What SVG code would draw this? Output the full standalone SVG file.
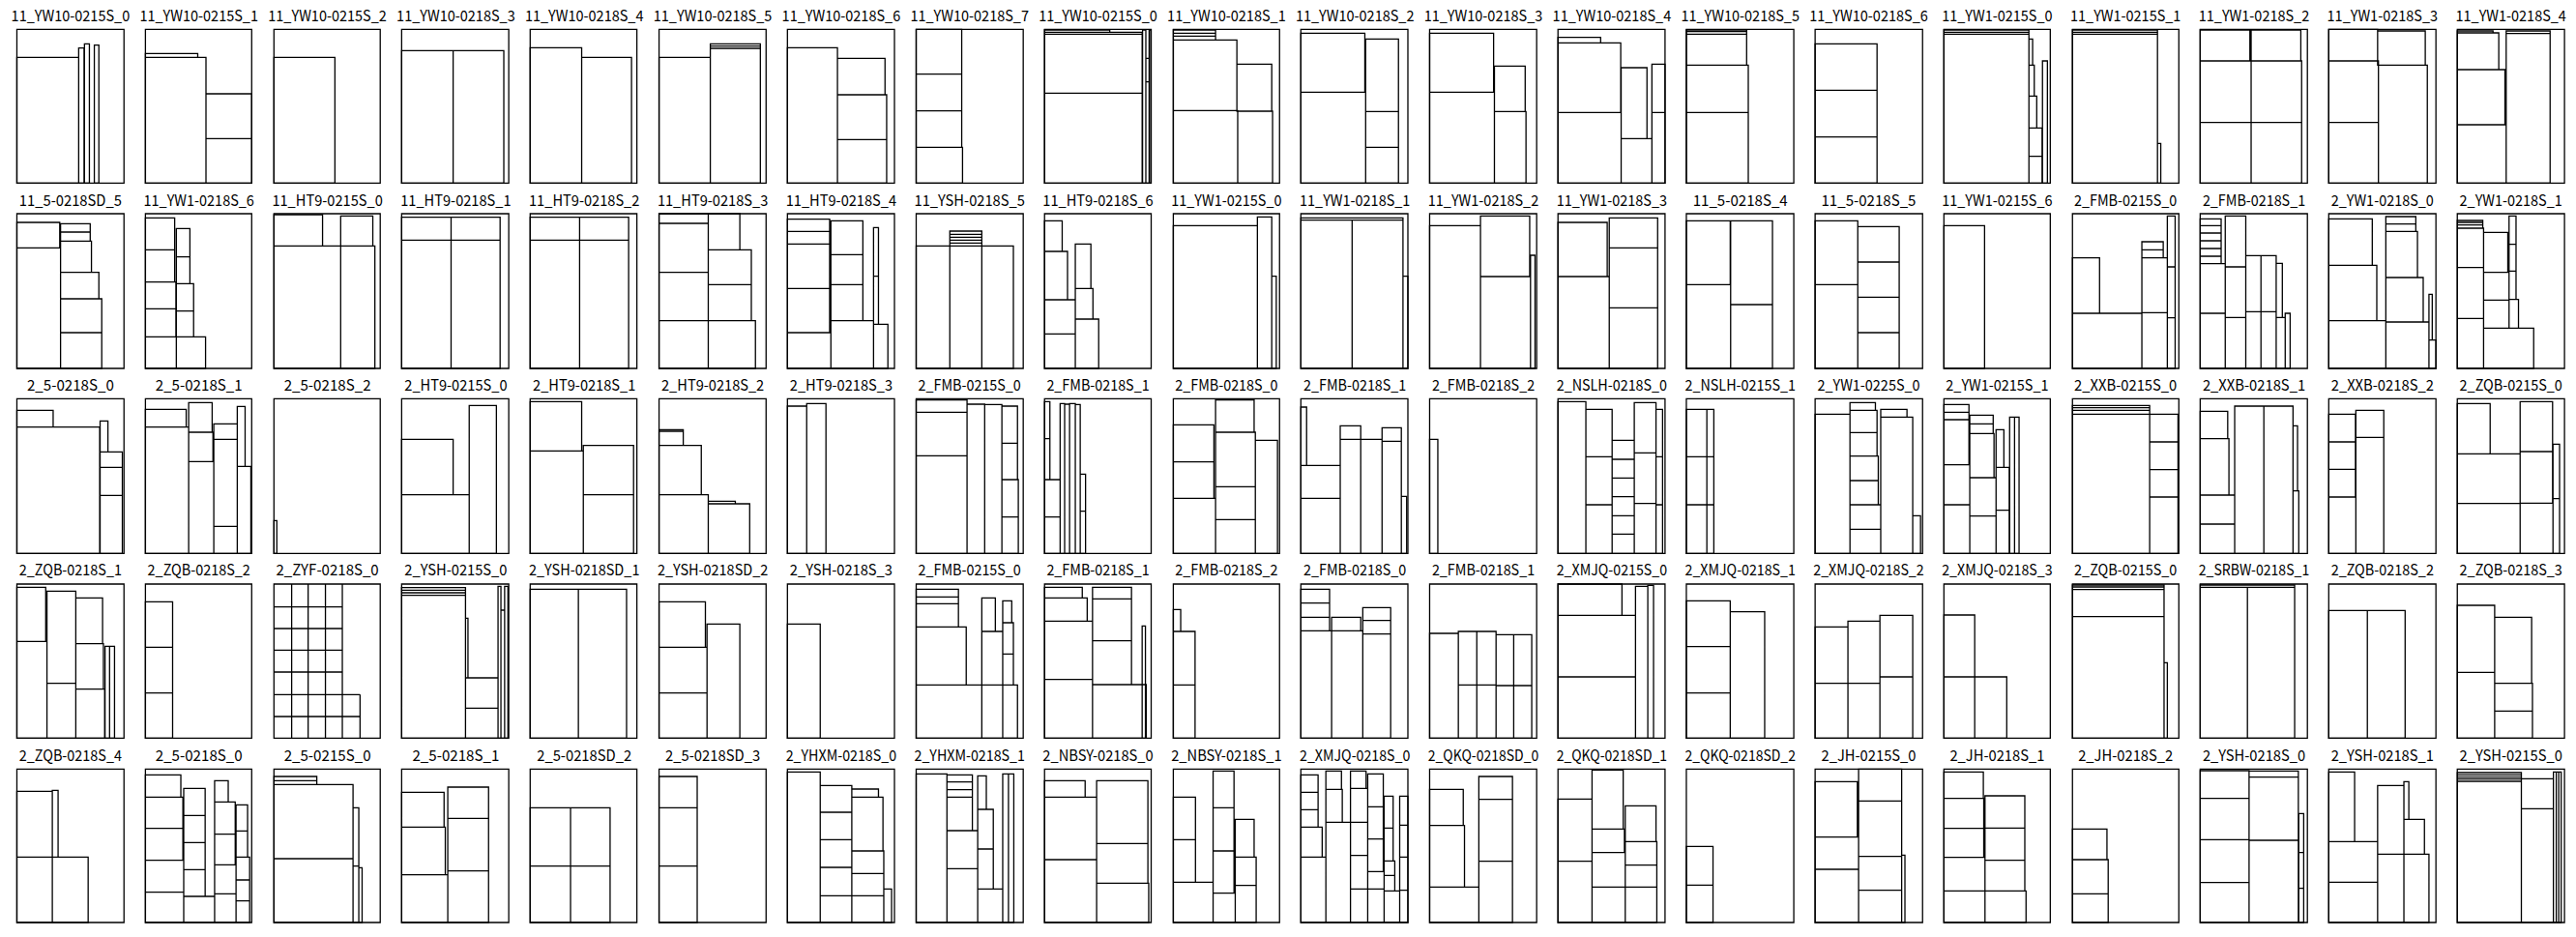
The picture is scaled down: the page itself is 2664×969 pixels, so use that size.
<svg xmlns="http://www.w3.org/2000/svg" width="2664" height="969" viewBox="0 0 2664 969">
<style>
.t{font-family:"Noto Sans CJK SC","DejaVu Sans Mono",sans-serif;font-size:15.5px;fill:#000;text-anchor:middle}
.f,.i{fill:none;stroke:#000;stroke-width:1.3;vector-effect:non-scaling-stroke}
</style>
<rect x="0" y="0" width="2664" height="969" fill="#fff"/>
<g id="panels">
<!-- ROW 1 -->
<g id="r1c01"><text class="t" x="72.9" y="21.5" textLength="122.6" lengthAdjust="spacingAndGlyphs">11_YW10-0215S_0</text><g transform="translate(0 0) scale(.42602 .33333)"><path class="f" d="M41 91H301V568H41Z"/><path class="i" d="M41 178H191V568H41Z M191 149H204V568H191Z M205 136H217V568H205Z M229 140H240V568H229Z"/></g></g>
<g id="r1c02"><text class="t" x="205.7" y="21.5" textLength="122.6" lengthAdjust="spacingAndGlyphs">11_YW10-0215S_1</text><g transform="translate(0 0) scale(.42602 .33333)"><path class="f" d="M353 91H611V568H353Z"/><path class="i" d="M353 166H480V178H353Z M353 178H500V568H353Z M500 291H611V430H500Z M500 430H611V568H500Z"/></g></g>
<g id="r1c03"><text class="t" x="338.6" y="21.5" textLength="122.6" lengthAdjust="spacingAndGlyphs">11_YW10-0215S_2</text><g transform="translate(0 0) scale(.42602 .33333)"><path class="f" d="M665 91H923V568H665Z"/><path class="i" d="M665 178H813V568H665Z"/></g></g>
<g id="r1c04"><text class="t" x="471.4" y="21.5" textLength="122.6" lengthAdjust="spacingAndGlyphs">11_YW10-0218S_3</text><g transform="translate(0 0) scale(.42602 .33333)"><path class="f" d="M975 91H1235V568H975Z"/><path class="i" d="M975 157H1100V568H975Z M1100 157H1223V568H1100Z"/></g></g>
<g id="r1c05"><text class="t" x="604.2" y="21.5" textLength="122.6" lengthAdjust="spacingAndGlyphs">11_YW10-0218S_4</text><g transform="translate(0 0) scale(.42602 .33333)"><path class="f" d="M1287 91H1546V568H1287Z"/><path class="i" d="M1287 148H1412V568H1287Z M1412 178H1533V568H1412Z"/></g></g>
<g id="r1c06"><text class="t" x="737.1" y="21.5" textLength="122.6" lengthAdjust="spacingAndGlyphs">11_YW10-0218S_5</text><g transform="translate(668 0) scale(.42411 .33333)"><path class="f" d="M32 91H293V568H32Z"/><path class="i" d="M32 178H157V568H32Z M157 136H279V143H157Z M157 143H279V150H157Z M157 150H279V568H157Z"/></g></g>
<g id="r1c07"><text class="t" x="869.9" y="21.5" textLength="122.6" lengthAdjust="spacingAndGlyphs">11_YW10-0218S_6</text><g transform="translate(668 0) scale(.42411 .33333)"><path class="f" d="M345 91H606V568H345Z"/><path class="i" d="M345 148H467V568H345Z M467 181H583V294H467Z M467 294H587V433H467Z M467 433H587V568H467Z"/></g></g>
<g id="r1c08"><text class="t" x="1002.7" y="21.5" textLength="122.6" lengthAdjust="spacingAndGlyphs">11_YW10-0218S_7</text><g transform="translate(668 0) scale(.42411 .33333)"><path class="f" d="M659 91H920V568H659Z"/><path class="i" d="M659 91H770V230H659Z M659 230H770V344H659Z M659 344H770V457H659Z M659 457H772V568H659Z"/></g></g>
<g id="r1c09"><text class="t" x="1135.5" y="21.5" textLength="122.6" lengthAdjust="spacingAndGlyphs">11_YW10-0215S_0</text><g transform="translate(668 0) scale(.42411 .33333)"><path class="f" d="M972 91H1232V568H972Z"/><path class="i" d="M972 93H1131V100H972Z M972 100H1210V106H972Z M972 106H1210V289H972Z M972 289H1210V568H972Z M1211 93H1219V568H1211Z M1219 181H1227V254H1219Z M1219 254H1227V568H1219Z M1227 93H1231V568H1227Z"/></g></g>
<g id="r1c10"><text class="t" x="1268.4" y="21.5" textLength="122.6" lengthAdjust="spacingAndGlyphs">11_YW10-0218S_1</text><g transform="translate(668 0) scale(.42411 .33333)"><path class="f" d="M1286 91H1545V568H1286Z"/><path class="i" d="M1286 93H1389V103H1286Z M1286 103H1389V112H1286Z M1286 112H1389V124H1286Z M1286 124H1441V343H1286Z M1441 199H1526V345H1441Z M1286 343H1443V568H1286Z M1443 345H1528V568H1443Z"/></g></g>
<g id="r1c11"><text class="t" x="1401.2" y="21.5" textLength="122.6" lengthAdjust="spacingAndGlyphs">11_YW10-0218S_2</text><g transform="translate(1333 0) scale(.42411 .33333)"><path class="f" d="M29 91H290V568H29Z"/><path class="i" d="M29 103H185V286H29Z M29 286H187V568H29Z M187 121H267V346H187Z M187 346H267V457H187Z M187 457H267V568H187Z"/></g></g>
<g id="r1c12"><text class="t" x="1534.0" y="21.5" textLength="122.6" lengthAdjust="spacingAndGlyphs">11_YW10-0218S_3</text><g transform="translate(1333 0) scale(.42411 .33333)"><path class="f" d="M343 91H604V568H343Z"/><path class="i" d="M343 103H499V286H343Z M343 286H501V568H343Z M501 205H576V346H501Z M501 346H578V568H501Z"/></g></g>
<g id="r1c13"><text class="t" x="1666.9" y="21.5" textLength="122.6" lengthAdjust="spacingAndGlyphs">11_YW10-0218S_4</text><g transform="translate(1333 0) scale(.42411 .33333)"><path class="f" d="M656 91H917V568H656Z"/><path class="i" d="M656 116H760V133H656Z M656 133H809V349H656Z M656 349H810V568H656Z M810 210H873V430H810Z M810 430H885V568H810Z M885 199H917V349H885Z M885 349H917V568H885Z"/></g></g>
<g id="r1c14"><text class="t" x="1799.7" y="21.5" textLength="122.6" lengthAdjust="spacingAndGlyphs">11_YW10-0218S_5</text><g transform="translate(1333 0) scale(.42411 .33333)"><path class="f" d="M969 91H1231V568H969Z"/><path class="i" d="M969 93H1116V98H969Z M969 98H1116V106H969Z M969 106H1116V202H969Z M969 202H1120V349H969Z M969 349H1120V568H969Z"/></g></g>
<g id="r1c15"><text class="t" x="1932.5" y="21.5" textLength="122.6" lengthAdjust="spacingAndGlyphs">11_YW10-0218S_6</text><g transform="translate(1333 0) scale(.42411 .33333)"><path class="f" d="M1283 91H1545V568H1283Z"/><path class="i" d="M1283 136H1434V280H1283Z M1283 280H1434V425H1283Z M1283 425H1434V568H1283Z"/></g></g>
<g id="r1c16"><text class="t" x="2065.4" y="21.5" textLength="114.4" lengthAdjust="spacingAndGlyphs">11_YW1-0215S_0</text><g transform="translate(1998 0) scale(.42474 .33333)"><path class="f" d="M29 91H288V568H29Z"/><path class="i" d="M29 93H236V100H29Z M29 100H236V106H29Z M29 106H236V568H29Z M236 121H245V202H236Z M236 202H249V298H236Z M236 298H255V397H236Z M236 397H268V485H236Z M236 485H268V568H236Z M269 189H281V568H269Z"/></g></g>
<g id="r1c17"><text class="t" x="2198.2" y="21.5" textLength="114.4" lengthAdjust="spacingAndGlyphs">11_YW1-0215S_1</text><g transform="translate(1998 0) scale(.42474 .33333)"><path class="f" d="M342 91H601V568H342Z"/><path class="i" d="M342 93H549V100H342Z M342 100H549V106H342Z M342 106H549V568H342Z M549 445H557V568H549Z"/></g></g>
<g id="r1c18"><text class="t" x="2331.0" y="21.5" textLength="114.4" lengthAdjust="spacingAndGlyphs">11_YW1-0218S_2</text><g transform="translate(1998 0) scale(.42474 .33333)"><path class="f" d="M653 91H914V568H653Z"/><path class="i" d="M653 93H774V189H653Z M777 93H898V189H777Z M653 189H777V380H653Z M777 189H900V380H777Z M653 380H777V568H653Z M777 380H900V568H777Z"/></g></g>
<g id="r1c19"><text class="t" x="2463.8" y="21.5" textLength="114.4" lengthAdjust="spacingAndGlyphs">11_YW1-0218S_3</text><g transform="translate(1998 0) scale(.42474 .33333)"><path class="f" d="M966 91H1227V568H966Z"/><path class="i" d="M966 91H1085V189H966Z M1085 96H1201V202H1085Z M966 189H1087V380H966Z M966 380H1087V568H966Z M1087 202H1206V568H1087Z"/></g></g>
<g id="r1c20"><text class="t" x="2596.7" y="21.5" textLength="114.4" lengthAdjust="spacingAndGlyphs">11_YW1-0218S_4</text><g transform="translate(1998 0) scale(.42474 .33333)"><path class="f" d="M1279 91H1540V568H1279Z"/><path class="i" d="M1279 96H1366V102H1279Z M1279 102H1380V216H1279Z M1279 216H1395V387H1279Z M1279 387H1398V568H1279Z M1398 96H1505V104H1398Z M1398 104H1505V568H1398Z"/></g></g>
<!-- ROW 2 -->
<g id="r2c01"><text class="t" x="72.9" y="212.8" textLength="106.2" lengthAdjust="spacingAndGlyphs">11_5-0218SD_5</text><g transform="translate(0 0) scale(.42602 .33333)"><path class="f" d="M41 663H301V1143H41Z"/><path class="i" d="M41 690H145V769H41Z M41 769H147V1143H41Z M147 694H219V720H147Z M147 720H219V748H147Z M147 748H222V845H147Z M147 845H240V927H147Z M147 927H247V1032H147Z M147 1032H247V1143H147Z"/></g></g>
<g id="r2c02"><text class="t" x="205.7" y="212.8" textLength="114.4" lengthAdjust="spacingAndGlyphs">11_YW1-0218S_6</text><g transform="translate(0 0) scale(.42602 .33333)"><path class="f" d="M353 663H611V1143H353Z"/><path class="i" d="M353 676H424V775H353Z M353 775H424V875H353Z M353 875H427V958H353Z M353 958H427V1045H353Z M353 1045H428V1143H353Z M428 709H461V797H428Z M428 797H461V880H428Z M428 880H470V965H428Z M428 965H470V1045H428Z M428 1045H499V1143H428Z"/></g></g>
<g id="r2c03"><text class="t" x="338.6" y="212.8" textLength="114.4" lengthAdjust="spacingAndGlyphs">11_HT9-0215S_0</text><g transform="translate(0 0) scale(.42602 .33333)"><path class="f" d="M665 663H923V1143H665Z"/><path class="i" d="M665 666H783V763H665Z M827 670H905V763H827Z M665 763H827V1143H665Z M827 763H910V1143H827Z"/></g></g>
<g id="r2c04"><text class="t" x="471.4" y="212.8" textLength="114.4" lengthAdjust="spacingAndGlyphs">11_HT9-0218S_1</text><g transform="translate(0 0) scale(.42602 .33333)"><path class="f" d="M975 663H1235V1143H975Z"/><path class="i" d="M975 674H1095V745H975Z M1095 674H1214V745H1095Z M975 745H1095V1143H975Z M1095 745H1214V1143H1095Z"/></g></g>
<g id="r2c05"><text class="t" x="604.2" y="212.8" textLength="114.4" lengthAdjust="spacingAndGlyphs">11_HT9-0218S_2</text><g transform="translate(0 0) scale(.42602 .33333)"><path class="f" d="M1287 663H1546V1143H1287Z"/><path class="i" d="M1287 674H1407V745H1287Z M1407 674H1526V745H1407Z M1287 745H1407V1143H1287Z M1407 745H1526V1143H1407Z"/></g></g>
<g id="r2c06"><text class="t" x="737.1" y="212.8" textLength="114.4" lengthAdjust="spacingAndGlyphs">11_HT9-0218S_3</text><g transform="translate(668 0) scale(.42411 .33333)"><path class="f" d="M32 663H293V1143H32Z"/><path class="i" d="M32 663H152V693H32Z M32 693H152V845H32Z M32 845H152V995H32Z M32 995H152V1143H32Z M152 663H229V775H152Z M152 775H257V883H152Z M152 883H257V995H152Z M152 995H267V1143H152Z"/></g></g>
<g id="r2c07"><text class="t" x="869.9" y="212.8" textLength="114.4" lengthAdjust="spacingAndGlyphs">11_HT9-0218S_4</text><g transform="translate(668 0) scale(.42411 .33333)"><path class="f" d="M345 663H606V1143H345Z"/><path class="i" d="M345 680H448V718H345Z M345 718H448V757H345Z M345 757H448V895H345Z M345 895H448V1032H345Z M345 1032H451V1143H345Z M451 685H529V790H451Z M451 790H529V883H451Z M451 883H529V995H451Z M451 995H555V1143H451Z M555 706H567V857H555Z M555 857H567V1006H555Z M555 1006H590V1143H555Z"/></g></g>
<g id="r2c08"><text class="t" x="1002.7" y="212.8" textLength="114.4" lengthAdjust="spacingAndGlyphs">11_YSH-0218S_5</text><g transform="translate(668 0) scale(.42411 .33333)"><path class="f" d="M659 663H920V1143H659Z"/><path class="i" d="M659 763H741V1143H659Z M741 717H819V727H741Z M741 727H819V736H741Z M741 736H819V745H741Z M741 745H819V754H741Z M741 754H819V763H741Z M741 763H819V1143H741Z M819 763H896V1143H819Z"/></g></g>
<g id="r2c09"><text class="t" x="1135.5" y="212.8" textLength="114.4" lengthAdjust="spacingAndGlyphs">11_HT9-0218S_6</text><g transform="translate(668 0) scale(.42411 .33333)"><path class="f" d="M972 663H1232V1143H972Z"/><path class="i" d="M972 685H1015V780H972Z M972 780H1028V930H972Z M972 930H1047V1036H972Z M972 1036H1047V1143H972Z M1047 757H1085V895H1047Z M1047 895H1090V990H1047Z M1047 990H1104V1143H1047Z"/></g></g>
<g id="r2c10"><text class="t" x="1268.4" y="212.8" textLength="114.4" lengthAdjust="spacingAndGlyphs">11_YW1-0215S_0</text><g transform="translate(668 0) scale(.42411 .33333)"><path class="f" d="M1286 663H1545V1143H1286Z"/><path class="i" d="M1286 700H1491V1143H1286Z M1491 673H1526V1143H1491Z M1526 857H1537V1143H1526Z"/></g></g>
<g id="r2c11"><text class="t" x="1401.2" y="212.8" textLength="114.4" lengthAdjust="spacingAndGlyphs">11_YW1-0218S_1</text><g transform="translate(1333 0) scale(.42411 .33333)"><path class="f" d="M29 663H290V1143H29Z"/><path class="i" d="M29 676H278V683H29Z M29 683H154V1143H29Z M154 683H278V1143H154Z M278 857H290V1143H278Z"/></g></g>
<g id="r2c12"><text class="t" x="1534.0" y="212.8" textLength="114.4" lengthAdjust="spacingAndGlyphs">11_YW1-0218S_2</text><g transform="translate(1333 0) scale(.42411 .33333)"><path class="f" d="M343 663H604V1143H343Z"/><path class="i" d="M343 700H467V1143H343Z M467 670H587V858H467Z M467 858H589V1143H467Z M589 792H600V1143H589Z"/></g></g>
<g id="r2c13"><text class="t" x="1666.9" y="212.8" textLength="114.4" lengthAdjust="spacingAndGlyphs">11_YW1-0218S_3</text><g transform="translate(1333 0) scale(.42411 .33333)"><path class="f" d="M656 663H917V1143H656Z"/><path class="i" d="M656 690H776V858H656Z M656 858H781V1143H656Z M781 676H899V769H781Z M781 769H899V955H781Z M781 955H899V1143H781Z"/></g></g>
<g id="r2c14"><text class="t" x="1799.7" y="212.8" textLength="98.0" lengthAdjust="spacingAndGlyphs">11_5-0218S_4</text><g transform="translate(1333 0) scale(.42411 .33333)"><path class="f" d="M969 663H1231V1143H969Z"/><path class="i" d="M969 685H1076V883H969Z M969 883H1077V1143H969Z M1077 685H1179V945H1077Z M1077 945H1179V1143H1077Z"/></g></g>
<g id="r2c15"><text class="t" x="1932.5" y="212.8" textLength="98.0" lengthAdjust="spacingAndGlyphs">11_5-0218S_5</text><g transform="translate(1333 0) scale(.42411 .33333)"><path class="f" d="M1283 663H1545V1143H1283Z"/><path class="i" d="M1283 685H1387V883H1283Z M1283 883H1387V1143H1283Z M1387 703H1488V813H1387Z M1387 813H1488V922H1387Z M1387 922H1488V1032H1387Z M1387 1032H1488V1143H1387Z"/></g></g>
<g id="r2c16"><text class="t" x="2065.4" y="212.8" textLength="114.4" lengthAdjust="spacingAndGlyphs">11_YW1-0215S_6</text><g transform="translate(1998 0) scale(.42474 .33333)"><path class="f" d="M29 663H288V1143H29Z"/><path class="i" d="M29 700H128V1143H29Z"/></g></g>
<g id="r2c17"><text class="t" x="2198.2" y="212.8" textLength="106.2" lengthAdjust="spacingAndGlyphs">2_FMB-0215S_0</text><g transform="translate(1998 0) scale(.42474 .33333)"><path class="f" d="M342 663H601V1143H342Z"/><path class="i" d="M342 800H408V972H342Z M342 972H511V1143H342Z M511 750H563V775H511Z M511 775H563V800H511Z M511 800H573V970H511Z M511 970H573V1143H511Z M573 670H592V828H573Z M573 828H592V986H573Z M573 986H592V1143H573Z"/></g></g>
<g id="r2c18"><text class="t" x="2331.0" y="212.8" textLength="106.2" lengthAdjust="spacingAndGlyphs">2_FMB-0218S_1</text><g transform="translate(1998 0) scale(.42474 .33333)"><path class="f" d="M653 663H914V1143H653Z"/><path class="i" d="M653 679H704V700H653Z M653 700H704V723H653Z M653 723H704V747H653Z M653 747H704V771H653Z M653 771H704V795H653Z M653 795H704V818H653Z M653 818H714V972H653Z M653 972H714V1143H653Z M714 670H764V828H714Z M714 828H764V985H714Z M714 985H764V1143H714Z M764 793H801V967H764Z M764 967H801V1143H764Z M801 793H838V967H801Z M801 967H838V1143H801Z M838 817H853V985H838Z M838 985H860V1143H838Z M860 972H872V1143H860Z"/></g></g>
<g id="r2c19"><text class="t" x="2463.8" y="212.8" textLength="106.2" lengthAdjust="spacingAndGlyphs">2_YW1-0218S_0</text><g transform="translate(1998 0) scale(.42474 .33333)"><path class="f" d="M966 663H1227V1143H966Z"/><path class="i" d="M966 679H1072V823H966Z M966 823H1083V995H966Z M966 995H1105V1143H966Z M1105 672H1178V695H1105Z M1105 695H1178V718H1105Z M1105 718H1182V861H1105Z M1105 861H1196V999H1105Z M1105 999H1210V1143H1105Z M1210 913H1218V1055H1210Z M1210 1055H1227V1143H1210Z"/></g></g>
<g id="r2c20"><text class="t" x="2596.7" y="212.8" textLength="106.2" lengthAdjust="spacingAndGlyphs">2_YW1-0218S_1</text><g transform="translate(1998 0) scale(.42474 .33333)"><path class="f" d="M1279 663H1540V1143H1279Z"/><path class="i" d="M1279 684H1341V690H1279Z M1279 690H1341V698H1279Z M1279 698H1341V708H1279Z M1279 708H1343V830H1279Z M1279 830H1343V988H1279Z M1279 988H1343V1143H1279Z M1343 721H1402V845H1343Z M1343 845H1405V931H1343Z M1343 931H1405V1018H1343Z M1343 1018H1465V1143H1343Z M1405 670H1422V758H1405Z M1405 758H1422V841H1405Z M1405 841H1422V929H1405Z M1405 929H1428V1018H1405Z"/></g></g>
<!-- ROW 3 -->
<g id="r3c01"><text class="t" x="72.9" y="404" textLength="89.9" lengthAdjust="spacingAndGlyphs">2_5-0218S_0</text><g transform="translate(0 385) scale(.42602 .33333)"><path class="f" d="M41 82H301V562H41Z"/><path class="i" d="M41 118H129V170H41Z M41 170H242V562H41Z M243 151H262V247H243Z M243 247H297V295H243Z M243 295H297V382H243Z M243 382H297V562H243Z"/></g></g>
<g id="r3c02"><text class="t" x="205.7" y="404" textLength="89.9" lengthAdjust="spacingAndGlyphs">2_5-0218S_1</text><g transform="translate(0 385) scale(.42602 .33333)"><path class="f" d="M353 82H611V562H353Z"/><path class="i" d="M353 115H452V170H353Z M353 170H458V562H353Z M458 94H515V186H458Z M458 186H517V277H458Z M458 277H519V562H458Z M519 160H576V208H519Z M519 208H576V478H519Z M519 478H576V562H519Z M576 106H595V292H576Z M576 292H609V562H576Z"/></g></g>
<g id="r3c03"><text class="t" x="338.6" y="404" textLength="89.9" lengthAdjust="spacingAndGlyphs">2_5-0218S_2</text><g transform="translate(0 385) scale(.42602 .33333)"><path class="f" d="M665 82H923V562H665Z"/><path class="i" d="M665 460H672V562H665Z"/></g></g>
<g id="r3c04"><text class="t" x="471.4" y="404" textLength="106.2" lengthAdjust="spacingAndGlyphs">2_HT9-0215S_0</text><g transform="translate(0 385) scale(.42602 .33333)"><path class="f" d="M975 82H1235V562H975Z"/><path class="i" d="M975 208H1100V380H975Z M975 380H1139V562H975Z M1139 103H1205V562H1139Z"/></g></g>
<g id="r3c05"><text class="t" x="604.2" y="404" textLength="106.2" lengthAdjust="spacingAndGlyphs">2_HT9-0218S_1</text><g transform="translate(0 385) scale(.42602 .33333)"><path class="f" d="M1287 82H1546V562H1287Z"/><path class="i" d="M1287 91H1412V244H1287Z M1287 244H1416V562H1287Z M1416 227H1538V380H1416Z M1416 380H1538V562H1416Z"/></g></g>
<g id="r3c06"><text class="t" x="737.1" y="404" textLength="106.2" lengthAdjust="spacingAndGlyphs">2_HT9-0218S_2</text><g transform="translate(668 385) scale(.42411 .33333)"><path class="f" d="M32 82H293V562H32Z"/><path class="i" d="M32 178H91V183H32Z M32 183H91V227H32Z M32 227H135V380H32Z M32 380H152V562H32Z M152 400H218V408H152Z M152 408H253V562H152Z"/></g></g>
<g id="r3c07"><text class="t" x="869.9" y="404" textLength="106.2" lengthAdjust="spacingAndGlyphs">2_HT9-0218S_3</text><g transform="translate(668 385) scale(.42411 .33333)"><path class="f" d="M345 82H606V562H345Z"/><path class="i" d="M345 105H392V562H345Z M392 97H439V562H392Z"/></g></g>
<g id="r3c08"><text class="t" x="1002.7" y="404" textLength="106.2" lengthAdjust="spacingAndGlyphs">2_FMB-0215S_0</text><g transform="translate(668 385) scale(.42411 .33333)"><path class="f" d="M659 82H920V562H659Z"/><path class="i" d="M659 86H783V124H659Z M659 124H783V259H659Z M659 259H783V562H659Z M783 99H826V562H783Z M826 100H868V562H826Z M868 105H906V220H868Z M868 220H906V333H868Z M868 333H908V449H868Z M868 449H908V562H868Z"/></g></g>
<g id="r3c09"><text class="t" x="1135.5" y="404" textLength="106.2" lengthAdjust="spacingAndGlyphs">2_FMB-0218S_1</text><g transform="translate(668 385) scale(.42411 .33333)"><path class="f" d="M972 82H1232V562H972Z"/><path class="i" d="M972 91H985V206H972Z M972 206H985V333H972Z M972 333H1010V449H972Z M972 449H1010V562H972Z M1010 97H1021V562H1010Z M1021 99H1033V562H1021Z M1033 97H1047V562H1033Z M1047 100H1059V562H1047Z M1059 316H1072V431H1059Z M1059 431H1072V562H1059Z"/></g></g>
<g id="r3c10"><text class="t" x="1268.4" y="404" textLength="106.2" lengthAdjust="spacingAndGlyphs">2_FMB-0218S_0</text><g transform="translate(668 385) scale(.42411 .33333)"><path class="f" d="M1286 82H1545V562H1286Z"/><path class="i" d="M1286 163H1385V278H1286Z M1286 278H1385V391H1286Z M1286 391H1389V562H1286Z M1389 86H1483V186H1389Z M1389 186H1486V355H1389Z M1389 355H1486V457H1389Z M1389 457H1486V562H1389Z M1486 211H1540V562H1486Z"/></g></g>
<g id="r3c11"><text class="t" x="1401.2" y="404" textLength="106.2" lengthAdjust="spacingAndGlyphs">2_FMB-0218S_1</text><g transform="translate(1333 385) scale(.42411 .33333)"><path class="f" d="M29 82H290V562H29Z"/><path class="i" d="M29 108H43V289H29Z M29 289H125V391H29Z M29 391H125V562H29Z M125 166H175V208H125Z M125 208H175V562H125Z M175 208H227V562H175Z M227 172H274V214H227Z M227 214H274V562H227Z M274 385H287V562H274Z"/></g></g>
<g id="r3c12"><text class="t" x="1534.0" y="404" textLength="106.2" lengthAdjust="spacingAndGlyphs">2_FMB-0218S_2</text><g transform="translate(1333 385) scale(.42411 .33333)"><path class="f" d="M343 82H604V562H343Z"/><path class="i" d="M343 208H363V562H343Z"/></g></g>
<g id="r3c13"><text class="t" x="1666.9" y="404" textLength="114.4" lengthAdjust="spacingAndGlyphs">2_NSLH-0218S_0</text><g transform="translate(1333 385) scale(.42411 .33333)"><path class="f" d="M656 82H917V562H656Z"/><path class="i" d="M656 91H724V562H656Z M724 115H788V262H724Z M724 262H788V411H724Z M724 411H788V562H724Z M788 211H842V270H788Z M788 270H842V328H788Z M788 328H842V386H788Z M788 386H842V445H788Z M788 445H842V502H788Z M788 502H842V562H788Z M842 94H895V250H842Z M842 250H895V407H842Z M842 407H895V562H842Z M895 115H911V262H895Z M895 262H911V411H895Z M895 411H911V562H895Z"/></g></g>
<g id="r3c14"><text class="t" x="1799.7" y="404" textLength="114.4" lengthAdjust="spacingAndGlyphs">2_NSLH-0215S_1</text><g transform="translate(1333 385) scale(.42411 .33333)"><path class="f" d="M969 82H1231V562H969Z"/><path class="i" d="M969 115H1019V262H969Z M969 262H1019V411H969Z M969 411H1019V562H969Z M1019 115H1036V262H1019Z M1019 262H1036V411H1019Z M1019 411H1036V562H1019Z"/></g></g>
<g id="r3c15"><text class="t" x="1932.5" y="404" textLength="106.2" lengthAdjust="spacingAndGlyphs">2_YW1-0225S_0</text><g transform="translate(1333 385) scale(.42411 .33333)"><path class="f" d="M1283 82H1545V562H1283Z"/><path class="i" d="M1283 130H1368V562H1283Z M1368 94H1430V118H1368Z M1368 118H1434V187H1368Z M1368 187H1434V260H1368Z M1368 260H1437V336H1368Z M1368 336H1437V411H1368Z M1368 411H1443V487H1368Z M1368 487H1443V562H1368Z M1443 115H1507V139H1443Z M1443 139H1521V562H1443Z M1521 445H1540V562H1521Z"/></g></g>
<g id="r3c16"><text class="t" x="2065.4" y="404" textLength="106.2" lengthAdjust="spacingAndGlyphs">2_YW1-0215S_1</text><g transform="translate(1998 385) scale(.42474 .33333)"><path class="f" d="M29 82H288V562H29Z"/><path class="i" d="M29 100H90V124H29Z M29 124H90V147H29Z M29 147H90V287H29Z M29 287H92V411H29Z M29 411H92V562H29Z M92 133H149V160H92Z M92 160H149V190H92Z M92 190H151V327H92Z M92 327H156V446H92Z M92 446H156V562H92Z M156 178H175V295H156Z M156 295H188V428H156Z M156 428H188V562H156Z M189 139H201V562H189Z M201 139H212V562H201Z"/></g></g>
<g id="r3c17"><text class="t" x="2198.2" y="404" textLength="106.2" lengthAdjust="spacingAndGlyphs">2_XXB-0215S_0</text><g transform="translate(1998 385) scale(.42474 .33333)"><path class="f" d="M342 82H601V562H342Z"/><path class="i" d="M342 103H530V110H342Z M342 110H530V118H342Z M342 118H530V130H342Z M342 130H530V562H342Z M530 130H599V216H530Z M530 216H599V302H530Z M530 302H599V387H530Z M530 387H599V562H530Z"/></g></g>
<g id="r3c18"><text class="t" x="2331.0" y="404" textLength="106.2" lengthAdjust="spacingAndGlyphs">2_XXB-0218S_1</text><g transform="translate(1998 385) scale(.42474 .33333)"><path class="f" d="M653 82H914V562H653Z"/><path class="i" d="M653 121H720V206H653Z M653 206H723V381H653Z M653 381H737V471H653Z M653 471H737V562H653Z M737 105H808V562H737Z M808 105H879V562H808Z M879 166H890V368H879Z M879 368H893V562H879Z"/></g></g>
<g id="r3c19"><text class="t" x="2463.8" y="404" textLength="106.2" lengthAdjust="spacingAndGlyphs">2_XXB-0218S_2</text><g transform="translate(1998 385) scale(.42474 .33333)"><path class="f" d="M966 82H1227V562H966Z"/><path class="i" d="M966 130H1031V216H966Z M966 216H1031V301H966Z M966 301H1031V387H966Z M966 387H1032V562H966Z M1032 118H1100V202H1032Z M1032 202H1100V562H1032Z"/></g></g>
<g id="r3c20"><text class="t" x="2596.7" y="404" textLength="106.2" lengthAdjust="spacingAndGlyphs">2_ZQB-0215S_0</text><g transform="translate(1998 385) scale(.42474 .33333)"><path class="f" d="M1279 82H1540V562H1279Z"/><path class="i" d="M1279 97H1359V253H1279Z M1279 253H1432V407H1279Z M1279 407H1432V562H1279Z M1432 91H1511V246H1432Z M1432 246H1511V406H1432Z M1432 406H1512V562H1432Z M1512 223H1528V392H1512Z M1512 392H1528V562H1512Z"/></g></g>
<!-- ROW 4 -->
<g id="r4c01"><text class="t" x="72.9" y="595.3" textLength="106.2" lengthAdjust="spacingAndGlyphs">2_ZQB-0218S_1</text><g transform="translate(0 385) scale(.42602 .33333)"><path class="f" d="M41 657H301V1135H41Z"/><path class="i" d="M41 667H111V835H41Z M41 835H114V1135H41Z M114 679H184V965H114Z M114 965H184V1135H114Z M184 700H249V842H184Z M184 842H251V983H184Z M184 983H254V1135H184Z M255 850H266V1135H255Z M266 850H278V1135H266Z"/></g></g>
<g id="r4c02"><text class="t" x="205.7" y="595.3" textLength="106.2" lengthAdjust="spacingAndGlyphs">2_ZQB-0218S_2</text><g transform="translate(0 385) scale(.42602 .33333)"><path class="f" d="M353 657H611V1135H353Z"/><path class="i" d="M353 712H419V853H353Z M353 853H419V995H353Z M353 995H419V1135H353Z"/></g></g>
<g id="r4c03"><text class="t" x="338.6" y="595.3" textLength="106.2" lengthAdjust="spacingAndGlyphs">2_ZYF-0218S_0</text><g transform="translate(0 385) scale(.42602 .33333)"><path class="f" d="M665 657H923V1135H665Z"/><path class="i" d="M708 657V1135M748 657V1135M790 657V1135M831 657V1135M874 1000V1135M665 728H831M665 795H831M665 862H831M665 930H831M665 1000H874M665 1068H874"/></g></g>
<g id="r4c04"><text class="t" x="471.4" y="595.3" textLength="106.2" lengthAdjust="spacingAndGlyphs">2_YSH-0215S_0</text><g transform="translate(0 385) scale(.42602 .33333)"><path class="f" d="M975 657H1235V1135H975Z"/><path class="i" d="M975 668H1130V676H975Z M975 676H1130V684H975Z M975 684H1130V692H975Z M975 692H1130V1135H975Z M1130 763H1136V948H1130Z M1130 948H1209V1042H1130Z M1130 1042H1209V1135H1130Z M1209 664H1216V1135H1209Z M1216 738H1225V1135H1216Z M1225 664H1233V1135H1225Z"/></g></g>
<g id="r4c05"><text class="t" x="604.2" y="595.3" textLength="114.4" lengthAdjust="spacingAndGlyphs">2_YSH-0218SD_1</text><g transform="translate(0 385) scale(.42602 .33333)"><path class="f" d="M1287 657H1546V1135H1287Z"/><path class="i" d="M1287 673H1404V1135H1287Z M1404 673H1521V1135H1404Z"/></g></g>
<g id="r4c06"><text class="t" x="737.1" y="595.3" textLength="114.4" lengthAdjust="spacingAndGlyphs">2_YSH-0218SD_2</text><g transform="translate(668 385) scale(.42411 .33333)"><path class="f" d="M32 657H293V1135H32Z"/><path class="i" d="M32 712H145V853H32Z M32 853H149V995H32Z M32 995H149V1135H32Z M149 781H229V1135H149Z"/></g></g>
<g id="r4c07"><text class="t" x="869.9" y="595.3" textLength="106.2" lengthAdjust="spacingAndGlyphs">2_YSH-0218S_3</text><g transform="translate(668 385) scale(.42411 .33333)"><path class="f" d="M345 657H606V1135H345Z"/><path class="i" d="M345 781H425V1135H345Z"/></g></g>
<g id="r4c08"><text class="t" x="1002.7" y="595.3" textLength="106.2" lengthAdjust="spacingAndGlyphs">2_FMB-0215S_0</text><g transform="translate(668 385) scale(.42411 .33333)"><path class="f" d="M659 657H920V1135H659Z"/><path class="i" d="M659 673H762V697H659Z M659 697H762V718H659Z M659 718H762V790H659Z M659 790H781V970H659Z M659 970H819V1135H659Z M819 700H852V804H819Z M819 804H870V970H819Z M870 709H892V777H870Z M870 777H896V874H870Z M870 874H896V970H870Z M819 970H870V1135H819Z M870 970H906V1135H870Z"/></g></g>
<g id="r4c09"><text class="t" x="1135.5" y="595.3" textLength="106.2" lengthAdjust="spacingAndGlyphs">2_FMB-0218S_1</text><g transform="translate(668 385) scale(.42411 .33333)"><path class="f" d="M972 657H1232V1135H972Z"/><path class="i" d="M972 667H1064V700H972Z M972 700H1076V772H972Z M972 772H1089V953H972Z M972 953H1089V1135H972Z M1089 667H1184V703H1089Z M1089 703H1184V833H1089Z M1089 833H1184V969H1089Z M1089 969H1220V1135H1089Z M1210 787H1218V1135H1210Z"/></g></g>
<g id="r4c10"><text class="t" x="1268.4" y="595.3" textLength="106.2" lengthAdjust="spacingAndGlyphs">2_FMB-0218S_2</text><g transform="translate(668 385) scale(.42411 .33333)"><path class="f" d="M1286 657H1545V1135H1286Z"/><path class="i" d="M1286 736H1304V804H1286Z M1286 804H1339V970H1286Z M1286 970H1339V1135H1286Z"/></g></g>
<g id="r4c11"><text class="t" x="1401.2" y="595.3" textLength="106.2" lengthAdjust="spacingAndGlyphs">2_FMB-0218S_0</text><g transform="translate(1333 385) scale(.42411 .33333)"><path class="f" d="M29 657H290V1135H29Z"/><path class="i" d="M29 673H99V716H29Z M29 716H99V760H29Z M29 760H99V802H29Z M29 802H104V1135H29Z M104 760H175V802H104Z M104 802H180V1135H104Z M180 730H248V770H180Z M180 770H248V812H180Z M180 812H248V1135H180Z"/></g></g>
<g id="r4c12"><text class="t" x="1534.0" y="595.3" textLength="106.2" lengthAdjust="spacingAndGlyphs">2_FMB-0218S_1</text><g transform="translate(1333 385) scale(.42411 .33333)"><path class="f" d="M343 657H604V1135H343Z"/><path class="i" d="M343 810H413V1135H343Z M413 804H458V970H413Z M413 970H458V1135H413Z M458 804H505V970H458Z M458 970H505V1135H458Z M505 814H548V972H505Z M505 972H548V1135H505Z M548 814H592V972H548Z M548 972H592V1135H548Z"/></g></g>
<g id="r4c13"><text class="t" x="1666.9" y="595.3" textLength="114.4" lengthAdjust="spacingAndGlyphs">2_XMJQ-0215S_0</text><g transform="translate(1333 385) scale(.42411 .33333)"><path class="f" d="M656 657H917V1135H656Z"/><path class="i" d="M656 657H812V754H656Z M656 754H845V945H656Z M656 945H845V1135H656Z M845 664H875V1135H845Z M875 661H889V1135H875Z"/></g></g>
<g id="r4c14"><text class="t" x="1799.7" y="595.3" textLength="114.4" lengthAdjust="spacingAndGlyphs">2_XMJQ-0218S_1</text><g transform="translate(1333 385) scale(.42411 .33333)"><path class="f" d="M969 657H1231V1135H969Z"/><path class="i" d="M969 709H1076V851H969Z M969 851H1076V995H969Z M969 995H1076V1135H969Z M1076 743H1160V1135H1076Z"/></g></g>
<g id="r4c15"><text class="t" x="1932.5" y="595.3" textLength="114.4" lengthAdjust="spacingAndGlyphs">2_XMJQ-0218S_2</text><g transform="translate(1333 385) scale(.42411 .33333)"><path class="f" d="M1283 657H1545V1135H1283Z"/><path class="i" d="M1283 790H1363V965H1283Z M1283 965H1363V1135H1283Z M1363 772H1441V965H1363Z M1363 965H1441V1135H1363Z M1441 754H1521V945H1441Z M1441 945H1521V1135H1441Z"/></g></g>
<g id="r4c16"><text class="t" x="2065.4" y="595.3" textLength="114.4" lengthAdjust="spacingAndGlyphs">2_XMJQ-0218S_3</text><g transform="translate(1998 385) scale(.42474 .33333)"><path class="f" d="M29 657H288V1135H29Z"/><path class="i" d="M29 753H104V945H29Z M29 945H104V1135H29Z M104 945H182V1135H104Z"/></g></g>
<g id="r4c17"><text class="t" x="2198.2" y="595.3" textLength="106.2" lengthAdjust="spacingAndGlyphs">2_ZQB-0215S_0</text><g transform="translate(1998 385) scale(.42474 .33333)"><path class="f" d="M342 657H601V1135H342Z"/><path class="i" d="M342 660H565V666H342Z M342 666H565V674H342Z M342 674H565V758H342Z M342 758H565V1135H342Z M565 901H573V1135H565Z"/></g></g>
<g id="r4c18"><text class="t" x="2331.0" y="595.3" textLength="114.4" lengthAdjust="spacingAndGlyphs">2_SRBW-0218S_1</text><g transform="translate(1998 385) scale(.42474 .33333)"><path class="f" d="M653 657H914V1135H653Z"/><path class="i" d="M653 660H883V667H653Z M653 667H768V1135H653Z M768 667H883V1135H768Z"/></g></g>
<g id="r4c19"><text class="t" x="2463.8" y="595.3" textLength="106.2" lengthAdjust="spacingAndGlyphs">2_ZQB-0218S_2</text><g transform="translate(1998 385) scale(.42474 .33333)"><path class="f" d="M966 657H1227V1135H966Z"/><path class="i" d="M966 739H1060V1135H966Z M1060 739H1152V1135H1060Z"/></g></g>
<g id="r4c20"><text class="t" x="2596.7" y="595.3" textLength="106.2" lengthAdjust="spacingAndGlyphs">2_ZQB-0218S_3</text><g transform="translate(1998 385) scale(.42474 .33333)"><path class="f" d="M1279 657H1540V1135H1279Z"/><path class="i" d="M1279 723H1370V931H1279Z M1279 931H1370V1135H1279Z M1370 760H1460V965H1370Z M1370 965H1462V1051H1370Z M1370 1051H1462V1135H1370Z"/></g></g>
<!-- ROW 5 -->
<g id="r5c01"><text class="t" x="72.9" y="786.6" textLength="106.2" lengthAdjust="spacingAndGlyphs">2_ZQB-0218S_4</text><g transform="translate(0 769) scale(.42602 .33333)"><path class="f" d="M41 79H301V555H41Z"/><path class="i" d="M41 148H127V352H41Z M127 145H141V352H127Z M41 352H127V555H41Z M127 352H214V555H127Z"/></g></g>
<g id="r5c02"><text class="t" x="205.7" y="786.6" textLength="89.9" lengthAdjust="spacingAndGlyphs">2_5-0218S_0</text><g transform="translate(0 769) scale(.42602 .33333)"><path class="f" d="M353 79H611V555H353Z"/><path class="i" d="M353 97H439V166H353Z M353 166H444V263H353Z M353 263H444V362H353Z M353 362H446V461H353Z M353 461H446V555H353Z M446 139H498V223H446Z M446 223H498V307H446Z M446 307H498V391H446Z M446 391H498V474H446Z M446 474H521V555H446Z M521 115H554V181H521Z M521 181H571V281H521Z M521 281H571V376H521Z M521 376H573V466H521Z M521 466H573V555H521Z M573 190H601V271H573Z M573 271H601V352H573Z M573 352H606V423H573Z M573 423H606V488H573Z M573 488H606V555H573Z"/></g></g>
<g id="r5c03"><text class="t" x="338.6" y="786.6" textLength="89.9" lengthAdjust="spacingAndGlyphs">2_5-0215S_0</text><g transform="translate(0 769) scale(.42602 .33333)"><path class="f" d="M665 79H923V555H665Z"/><path class="i" d="M665 102H769V115H665Z M665 115H769V127H665Z M665 127H857V357H665Z M665 357H857V555H665Z M857 199H871V380H857Z M857 380H871V555H857Z M871 385H879V555H871Z"/></g></g>
<g id="r5c04"><text class="t" x="471.4" y="786.6" textLength="89.9" lengthAdjust="spacingAndGlyphs">2_5-0218S_1</text><g transform="translate(0 769) scale(.42602 .33333)"><path class="f" d="M975 79H1235V555H975Z"/><path class="i" d="M975 151H1078V259H975Z M975 259H1081V407H975Z M975 407H1087V555H975Z M1087 135H1186V232H1087Z M1087 232H1186V395H1087Z M1087 395H1186V555H1087Z"/></g></g>
<g id="r5c05"><text class="t" x="604.2" y="786.6" textLength="98.0" lengthAdjust="spacingAndGlyphs">2_5-0218SD_2</text><g transform="translate(0 769) scale(.42602 .33333)"><path class="f" d="M1287 79H1546V555H1287Z"/><path class="i" d="M1287 199H1385V380H1287Z M1385 199H1481V380H1385Z M1287 380H1385V555H1287Z M1385 380H1481V555H1385Z"/></g></g>
<g id="r5c06"><text class="t" x="737.1" y="786.6" textLength="98.0" lengthAdjust="spacingAndGlyphs">2_5-0218SD_3</text><g transform="translate(668 769) scale(.42411 .33333)"><path class="f" d="M32 79H293V555H32Z"/><path class="i" d="M32 102H125V199H32Z M32 199H125V380H32Z M32 380H125V555H32Z"/></g></g>
<g id="r5c07"><text class="t" x="869.9" y="786.6" textLength="114.4" lengthAdjust="spacingAndGlyphs">2_YHXM-0218S_0</text><g transform="translate(668 769) scale(.42411 .33333)"><path class="f" d="M345 79H606V555H345Z"/><path class="i" d="M345 88H425V555H345Z M425 130H502V213H425Z M425 213H502V298H425Z M425 298H502V384H425Z M425 384H502V472H425Z M425 472H502V555H425Z M502 141H567V166H502Z M502 166H578V333H502Z M502 333H580V403H502Z M502 403H580V472H502Z M502 472H580V555H502Z M580 451H599V555H580Z"/></g></g>
<g id="r5c08"><text class="t" x="1002.7" y="786.6" textLength="114.4" lengthAdjust="spacingAndGlyphs">2_YHXM-0218S_1</text><g transform="translate(668 769) scale(.42411 .33333)"><path class="f" d="M659 79H920V555H659Z"/><path class="i" d="M659 94H734V555H659Z M734 97H796V119H734Z M734 119H796V143H734Z M734 143H796V166H734Z M734 166H796V270H734Z M734 270H809V388H734Z M734 388H809V555H734Z M809 100H830V204H809Z M809 204H847V327H809Z M809 327H847V451H809Z M809 451H870V555H809Z M870 94H884V555H870Z M884 94H897V555H884Z"/></g></g>
<g id="r5c09"><text class="t" x="1135.5" y="786.6" textLength="114.4" lengthAdjust="spacingAndGlyphs">2_NBSY-0218S_0</text><g transform="translate(668 769) scale(.42411 .33333)"><path class="f" d="M972 79H1232V555H972Z"/><path class="i" d="M972 115H1071V166H972Z M972 166H1099V360H972Z M972 360H1099V555H972Z M1099 115H1224V310H1099Z M1099 310H1224V433H1099Z M1099 433H1226V555H1099Z"/></g></g>
<g id="r5c10"><text class="t" x="1268.4" y="786.6" textLength="114.4" lengthAdjust="spacingAndGlyphs">2_NBSY-0218S_1</text><g transform="translate(668 769) scale(.42411 .33333)"><path class="f" d="M1286 79H1545V555H1286Z"/><path class="i" d="M1286 166H1340V298H1286Z M1286 298H1340V430H1286Z M1286 430H1383V555H1286Z M1383 85H1434V199H1383Z M1383 199H1434V333H1383Z M1383 333H1434V464H1383Z M1383 464H1437V555H1383Z M1437 235H1483V352H1437Z M1437 352H1488V440H1437Z M1437 440H1488V555H1437Z"/></g></g>
<g id="r5c11"><text class="t" x="1401.2" y="786.6" textLength="114.4" lengthAdjust="spacingAndGlyphs">2_XMJQ-0218S_0</text><g transform="translate(1333 769) scale(.42411 .33333)"><path class="f" d="M29 79H290V555H29Z"/><path class="i" d="M29 97H71V151H29Z M29 151H71V205H29Z M29 205H71V259H29Z M29 259H81V352H29Z M29 352H90V555H29Z M90 85H128V142H90Z M90 142H130V244H90Z M90 244H150V555H90Z M150 85H188V139H150Z M150 139H192V244H150Z M150 244H192V347H150Z M150 347H192V451H150Z M150 451H192V555H150Z M192 94H230V196H192Z M192 196H230V296H192Z M192 296H230V397H192Z M192 397H232V451H192Z M192 451H232V555H192Z M232 163H254V262H232Z M232 262H254V364H232Z M232 364H258V409H232Z M232 409H258V457H232Z M232 457H270V555H232Z M270 163H290V253H270Z M270 253H290V352H270Z M270 352H290V455H270Z M270 455H290V555H270Z"/></g></g>
<g id="r5c12"><text class="t" x="1534.0" y="786.6" textLength="114.4" lengthAdjust="spacingAndGlyphs">2_QKQ-0218SD_0</text><g transform="translate(1333 769) scale(.42411 .33333)"><path class="f" d="M343 79H604V555H343Z"/><path class="i" d="M343 142H425V254H343Z M343 254H428V445H343Z M343 445H463V555H343Z M463 102H545V173H463Z M463 173H545V365H463Z M463 365H545V555H463Z"/></g></g>
<g id="r5c13"><text class="t" x="1666.9" y="786.6" textLength="114.4" lengthAdjust="spacingAndGlyphs">2_QKQ-0218SD_1</text><g transform="translate(1333 769) scale(.42411 .33333)"><path class="f" d="M656 79H917V555H656Z"/><path class="i" d="M656 172H739V365H656Z M656 365H739V555H656Z M739 82H815V265H739Z M739 265H818V338H739Z M739 338H820V445H739Z M739 445H820V555H739Z M820 193H895V304H820Z M820 304H897V377H820Z M820 377H897V445H820Z M820 445H897V555H820Z"/></g></g>
<g id="r5c14"><text class="t" x="1799.7" y="786.6" textLength="114.4" lengthAdjust="spacingAndGlyphs">2_QKQ-0218SD_2</text><g transform="translate(1333 769) scale(.42411 .33333)"><path class="f" d="M969 79H1231V555H969Z"/><path class="i" d="M969 319H1034V439H969Z M969 439H1034V555H969Z"/></g></g>
<g id="r5c15"><text class="t" x="1932.5" y="786.6" textLength="98.0" lengthAdjust="spacingAndGlyphs">2_JH-0215S_0</text><g transform="translate(1333 769) scale(.42411 .33333)"><path class="f" d="M1283 79H1545V555H1283Z"/><path class="i" d="M1283 118H1386V290H1283Z M1283 290H1389V390H1283Z M1283 390H1389V555H1283Z M1389 79H1494V178H1389Z M1389 178H1494V350H1389Z M1389 350H1494V455H1389Z M1389 455H1494V555H1389Z M1494 346H1502V555H1494Z"/></g></g>
<g id="r5c16"><text class="t" x="2065.4" y="786.6" textLength="98.0" lengthAdjust="spacingAndGlyphs">2_JH-0218S_1</text><g transform="translate(1998 769) scale(.42474 .33333)"><path class="f" d="M29 79H288V555H29Z"/><path class="i" d="M29 88H125V170H29Z M29 170H126V263H29Z M29 263H126V353H29Z M29 353H129V457H29Z M29 457H129V555H29Z M129 162H226V262H129Z M129 262H226V362H129Z M129 362H226V457H129Z M129 457H229V555H129Z"/></g></g>
<g id="r5c17"><text class="t" x="2198.2" y="786.6" textLength="98.0" lengthAdjust="spacingAndGlyphs">2_JH-0218S_2</text><g transform="translate(1998 769) scale(.42474 .33333)"><path class="f" d="M342 79H601V555H342Z"/><path class="i" d="M342 265H426V360H342Z M342 360H429V466H342Z M342 466H429V555H342Z"/></g></g>
<g id="r5c18"><text class="t" x="2331.0" y="786.6" textLength="106.2" lengthAdjust="spacingAndGlyphs">2_YSH-0218S_0</text><g transform="translate(1998 769) scale(.42474 .33333)"><path class="f" d="M653 79H914V555H653Z"/><path class="i" d="M653 84H772V170H653Z M653 170H772V298H653Z M653 298H772V431H653Z M653 431H772V555H653Z M772 85H892V104H772Z M772 104H892V300H772Z M772 300H892V555H772Z M893 217H905V338H893Z M893 338H905V449H893Z M893 449H905V555H893Z"/></g></g>
<g id="r5c19"><text class="t" x="2463.8" y="786.6" textLength="106.2" lengthAdjust="spacingAndGlyphs">2_YSH-0218S_1</text><g transform="translate(1998 769) scale(.42474 .33333)"><path class="f" d="M966 79H1227V555H966Z"/><path class="i" d="M966 88H1029V304H966Z M966 304H1085V430H966Z M966 430H1085V555H966Z M1085 130H1149V343H1085Z M1085 343H1149V555H1085Z M1149 118H1161V235H1149Z M1149 235H1199V343H1149Z M1149 343H1210V555H1149Z"/></g></g>
<g id="r5c20"><text class="t" x="2596.7" y="786.6" textLength="106.2" lengthAdjust="spacingAndGlyphs">2_YSH-0215S_0</text><g transform="translate(1998 769) scale(.42474 .33333)"><path class="f" d="M1279 79H1540V555H1279Z"/><path class="i" d="M1279 90H1435V97H1279Z M1279 97H1435V104H1279Z M1279 104H1435V110H1279Z M1279 110H1435V117H1279Z M1279 117H1435V555H1279Z M1435 109H1513V202H1435Z M1435 202H1513V555H1435Z M1513 88H1520V555H1513Z M1520 88H1526V555H1520Z M1526 88H1532V555H1526Z"/></g></g>
</g>
</svg>
